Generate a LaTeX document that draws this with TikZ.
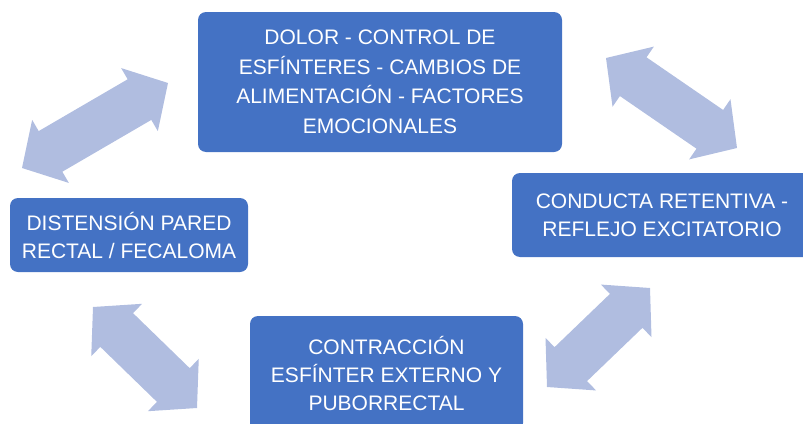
\documentclass[tikz,border=0pt]{standalone}
\usepackage{fontspec}
\setmainfont{Liberation Sans}
\usetikzlibrary{calc}
\definecolor{boxblue}{HTML}{4472C4}
\definecolor{arrowblue}{HTML}{B0BDE0}
\tikzset{
  box/.style={fill=boxblue, rounded corners=8pt, text=white, align=center, inner sep=0pt,
    font=\fontsize{21}{28}\selectfont},
  arrowfill/.style={fill=arrowblue}
}
\newcommand{\dblarr}[2]{%
  \coordinate (p1) at ($(#1)!33pt!(#2)$);
  \coordinate (p2) at ($(#2)!33pt!(#1)$);
  \fill[arrowfill] (#1) -- ($(p1)!36.5pt!90:(#2)$) -- ($(p1)!23.5pt!90:(#2)$)
    -- ($(p2)!23.5pt!-90:(#1)$) -- ($(p2)!36.5pt!-90:(#1)$) -- (#2)
    -- ($(p2)!36.5pt!90:(#1)$) -- ($(p2)!23.5pt!90:(#1)$)
    -- ($(p1)!23.5pt!-90:(#2)$) -- ($(p1)!36.5pt!-90:(#2)$) -- cycle;}
\begin{document}
\begin{tikzpicture}[x=1pt,y=-1pt]
\useasboundingbox (0,0) rectangle (803,423);
\clip (0,0) rectangle (803,423);
\node[box, minimum width=364pt, minimum height=140pt, font=\fontsize{21}{29.5}\selectfont] (top) at (380,82)
  {DOLOR - CONTROL DE\\ESFÍNTERES - CAMBIOS DE\\ALIMENTACIÓN - FACTORES\\EMOCIONALES};
\node[box, minimum width=300pt, minimum height=84pt] (right) at (662,215)
  {CONDUCTA RETENTIVA -\\REFLEJO EXCITATORIO};
\node[box, minimum width=238pt, minimum height=74pt] (left) at (129,235)
  {DISTENSIÓN PARED\\RECTAL / FECALOMA};
\node[box, minimum width=273pt, minimum height=115pt] (bottom) at (386.5,373.5)
  {CONTRACCIÓN\\ESFÍNTER EXTERNO Y\\PUBORRECTAL};
\coordinate (tlA) at (22,168);  \coordinate (tlB) at (168,83);
\coordinate (trA) at (606,58);  \coordinate (trB) at (737,148);
\coordinate (blA) at (93,307);  \coordinate (blB) at (197,408);
\coordinate (brA) at (547,387); \coordinate (brB) at (650,288);
\dblarr{tlA}{tlB}
\dblarr{trA}{trB}
\dblarr{blA}{blB}
\dblarr{brA}{brB}
\end{tikzpicture}
\end{document}
